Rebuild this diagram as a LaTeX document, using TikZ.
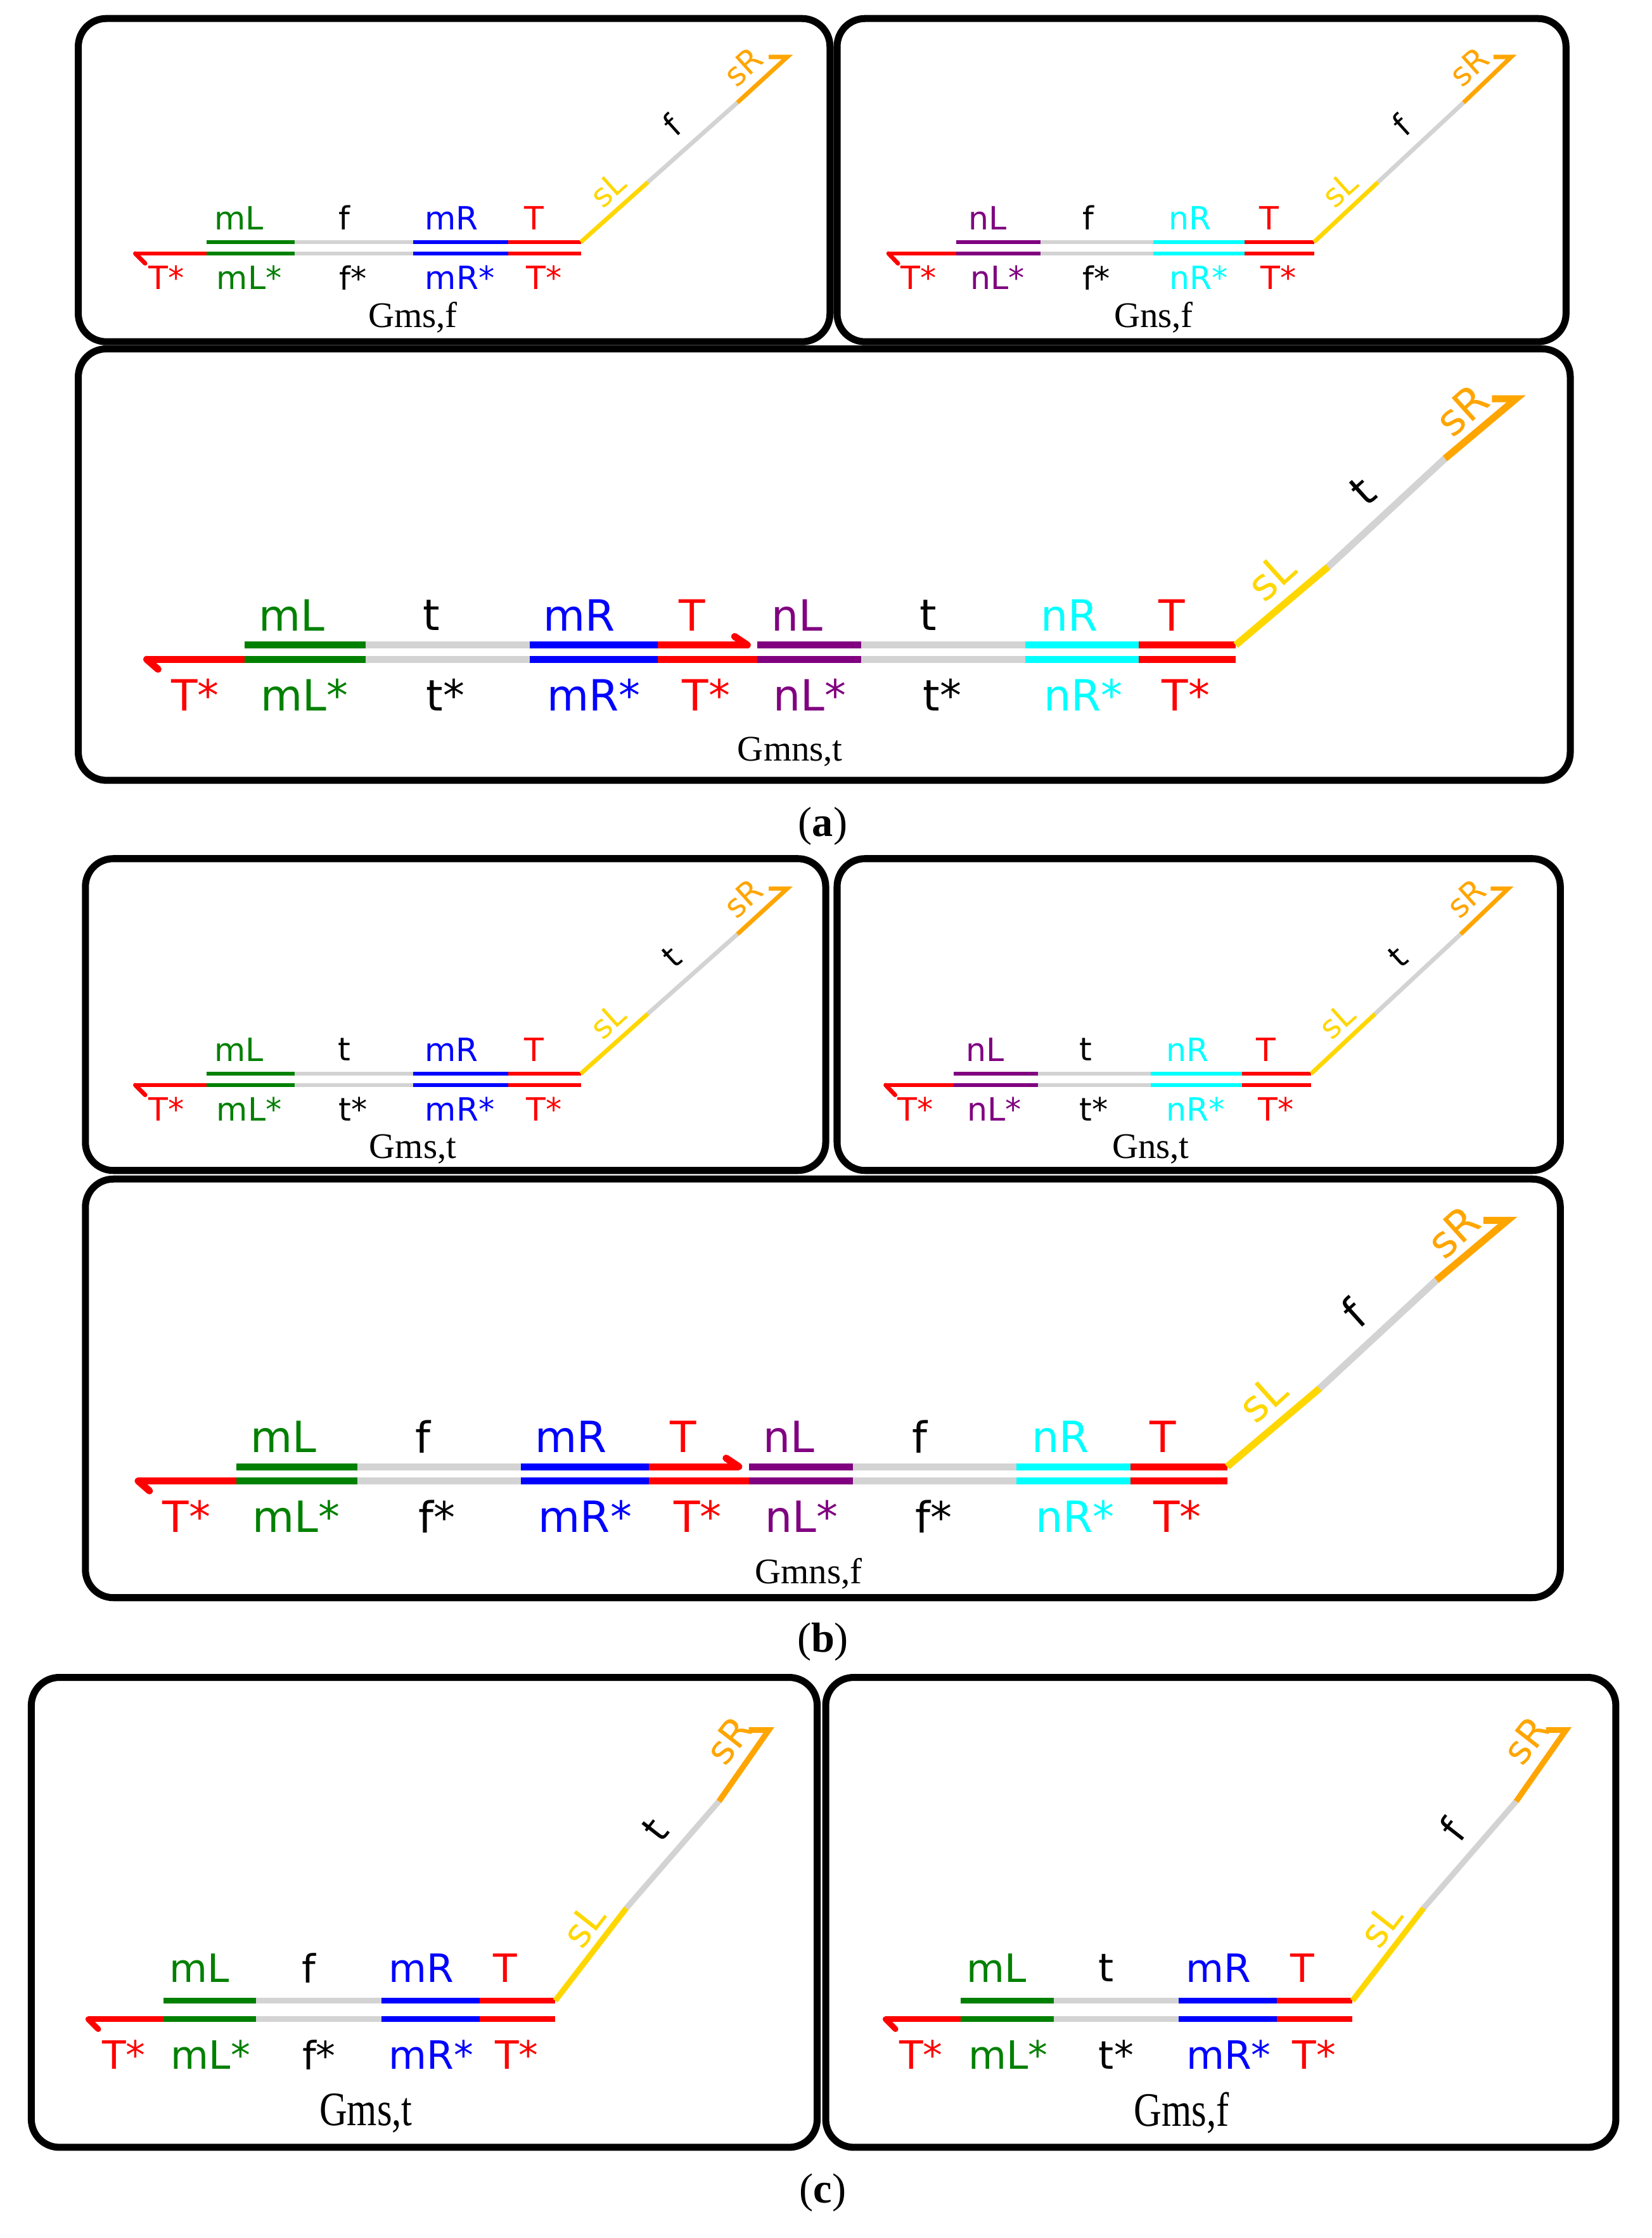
\documentclass[tikz,border=0pt]{standalone}
\usepackage{fontspec}
\setmainfont{Liberation Serif}
\newfontfamily\lab{DejaVu Sans}
\definecolor{cg}{RGB}{0,128,0}
\definecolor{cb}{RGB}{0,0,255}
\definecolor{cr}{RGB}{255,0,0}
\definecolor{cgr}{RGB}{211,211,211}
\definecolor{cp}{RGB}{128,0,128}
\definecolor{cc}{RGB}{0,255,255}
\definecolor{cy}{RGB}{255,215,0}
\definecolor{co}{RGB}{255,165,0}
\tikzset{panel/.style={draw=black,line width=7pt,rounded corners=28pt},
 st/.style={line width=4.3pt},
 stb/.style={line width=7pt},
 stc/.style={line width=5.7pt},
 sl/.style={font=\lab\fontsize{32}{32}\selectfont,inner sep=0pt},
 bl/.style={font=\lab\fontsize{43}{43}\selectfont,inner sep=0pt},
 cl/.style={font=\lab\fontsize{39}{39}\selectfont,inner sep=0pt},
 captxt/.style={font=\fontsize{36}{36}\selectfont,inner sep=0pt}}
% small panel
\newcommand\smallpan[9]{%
\begin{scope}[shift={(#1,#2)},xscale=#8]
\draw[st,cr] (-313,8)--(-263,8); \draw[st,cr,line cap=round] (-313,8)--(-306,15);
\foreach \y in {0,8}{
\draw[st,#3](-263,\y)--(-201,\y); \draw[st,cgr](-201,\y)--(-118,\y);
\draw[st,#4](-118,\y)--(-51,\y); \draw[st,cr](-51,\y)--(0,\y);}
\draw[st,cy](0,0)--(47,-42); \draw[st,cgr](47,-42)--(110,-98);
\draw[st,co,line join=miter](110,-98)--(145,-130)--(132,-130);
\node[sl,text=#3] at (-240,-17) {#5}; \node[sl] at (-166,-17) {#7};
\node[sl,text=#4] at (-91,-17) {#6}; \node[sl,text=cr] at (-33,-17) {T};
\node[sl,text=cr] at (-291,25) {T*}; \node[sl,text=#3] at (-233,25) {#5*};
\node[sl] at (-160,25) {#7*}; \node[sl,text=#4] at (-85,25) {#6*};
\node[sl,text=cr] at (-26,25) {T*};
\node[sl,text=cy,rotate=42] at (19,-37) {sL};
\node[sl,rotate=42] at (64,-82) {#7};
\node[sl,text=co,rotate=42] at (114,-123) {sR};
\node[captxt] at (-118,53) {#9};
\end{scope}}
% big panel
\newcommand\bigpan[5]{%
\begin{scope}[shift={(#1,#2)}]
\draw[stb,cr](-765,10)--(-696,10); \draw[stb,cr,line cap=round](-765,10)--(-757,17);
\foreach \y in {0,10}{
\draw[stb,cg](-696,\y)--(-611,\y); \draw[stb,cgr](-611,\y)--(-496,\y);
\draw[stb,cb](-496,\y)--(-406,\y);
\draw[stb,cp](-336,\y)--(-263,\y); \draw[stb,cgr](-263,\y)--(-148,\y);
\draw[stb,cc](-148,\y)--(-68,\y); \draw[stb,cr](-68,\y)--(0,\y);}
\draw[stb,cr](-406,10)--(-336,10);
\draw[stb,cr](-406,0)--(-343,0); \draw[stb,cr,line cap=round](-343,0)--(-352,-6);
\draw[stb,cy](0,0)--(65,-55); \draw[stb,cgr](65,-55)--(147,-131);
\draw[stb,co,line join=miter](147,-131)--(197,-173)--(180,-173);
\node[bl,text=cg] at (-663,-21){mL}; \node[bl] at (-565,-21){#3};
\node[bl,text=cb] at (-461,-21){mR}; \node[bl,text=cr] at (-382,-21){T};
\node[bl,text=cp] at (-308,-21){nL}; \node[bl] at (-216,-21){#3};
\node[bl,text=cc] at (-117,-21){nR}; \node[bl,text=cr] at (-45,-21){T};
\node[bl,text=cr] at (-731,35){T*}; \node[bl,text=cg] at (-654,35){mL*};
\node[bl] at (-555,35){#3*}; \node[bl,text=cb] at (-451,35){mR*};
\node[bl,text=cr] at (-372,35){T*}; \node[bl,text=cp] at (-299,35){nL*};
\node[bl] at (-206,35){#3*}; \node[bl,text=cc] at (-107,35){nR*};
\node[bl,text=cr] at (-35,35){T*};
\node[bl,text=cy,rotate=42] at (25,-48){sL};
\node[bl,rotate=42] at (89,-108){#3};
\node[bl,text=co,rotate=42] at (159,-165){sR};
\node[captxt] at (#5,75){#4};
\end{scope}}
% c panel
\newcommand\cpan[6]{%
\begin{scope}[shift={(#1,#2)}]
\draw[stc,cr](-328,13)--(-275,13); \draw[stc,cr,line cap=round](-328,13)--(-321,20);
\foreach \y in {0,13}{
\draw[stc,cg](-275,\y)--(-210,\y); \draw[stc,cgr](-210,\y)--(-122,\y);
\draw[stc,cb](-122,\y)--(-53,\y); \draw[stc,cr](-53,\y)--(0,\y);}
\draw[stc,cy](0,0)--(50,-65); \draw[stc,cgr](50,-65)--(115,-140);
\draw[stc,co,line join=miter](115,-140)--(150,-190)--(136,-190);
\node[cl,text=cg] at (-250,-23){mL}; \node[cl] at (-173,-23){#3};
\node[cl,text=cb] at (-94,-23){mR}; \node[cl,text=cr] at (-35,-23){T};
\node[cl,text=cr] at (-303,38){T*}; \node[cl,text=cg] at (-242,38){mL*};
\node[cl] at (-166,38){#3*}; \node[cl,text=cb] at (-87,38){mR*};
\node[cl,text=cr] at (-27,38){T*};
\node[cl,text=cy,rotate=52] at (20,-53){sL};
\node[cl,rotate=52] at (70,-120){#4};
\node[cl,text=co,rotate=52] at (122,-183){sR};
\node[captxt,font=\fontsize{48}{48}\selectfont,xscale=0.8] at (#6,79){#5};
\end{scope}}
\begin{document}
\begin{tikzpicture}[x=0.05cm,y=-0.05cm]
\useasboundingbox (0,0) rectangle (1160,1571.7);
\fill[white] (0,0) rectangle (1160,1571.7);
% (a)
\draw[panel] (55,13) rectangle (583,240);
\draw[panel] (588,13) rectangle (1100,240);
\draw[panel] (55,245) rectangle (1103,548);
\smallpan{408}{170}{cg}{cb}{mL}{mR}{f}{1}{Gms,f}
\smallpan{923}{170}{cp}{cc}{nL}{nR}{f}{0.955}{Gns,f}
\bigpan{868}{453}{t}{Gmns,t}{-313}
\node[captxt,font=\fontsize{42}{42}\selectfont] (la) at (578,580){(\textbf{a})};
% (b)
\draw[panel] (60,603) rectangle (580,822);
\draw[panel] (588,603) rectangle (1096,822);
\draw[panel] (60,828) rectangle (1096,1122);
\smallpan{408}{754}{cg}{cb}{mL}{mR}{t}{1}{Gms,t}
\smallpan{921}{754}{cp}{cc}{nL}{nR}{t}{0.955}{Gns,t}
\bigpan{862}{1030}{f}{Gmns,f}{-294}
\node[captxt,font=\fontsize{42}{42}\selectfont] (lb) at (578,1153){(\textbf{b})};
% (c)
\draw[panel] (22,1178) rectangle (574,1508);
\draw[panel] (580,1178) rectangle (1135,1508);
\cpan{390}{1405}{f}{t}{Gms,t}{-133}
\cpan{950}{1405}{t}{f}{Gms,f}{-120}
\node[captxt,font=\fontsize{42}{42}\selectfont] (lc) at (578,1540){(\textbf{c})};
\end{tikzpicture}
\end{document}
